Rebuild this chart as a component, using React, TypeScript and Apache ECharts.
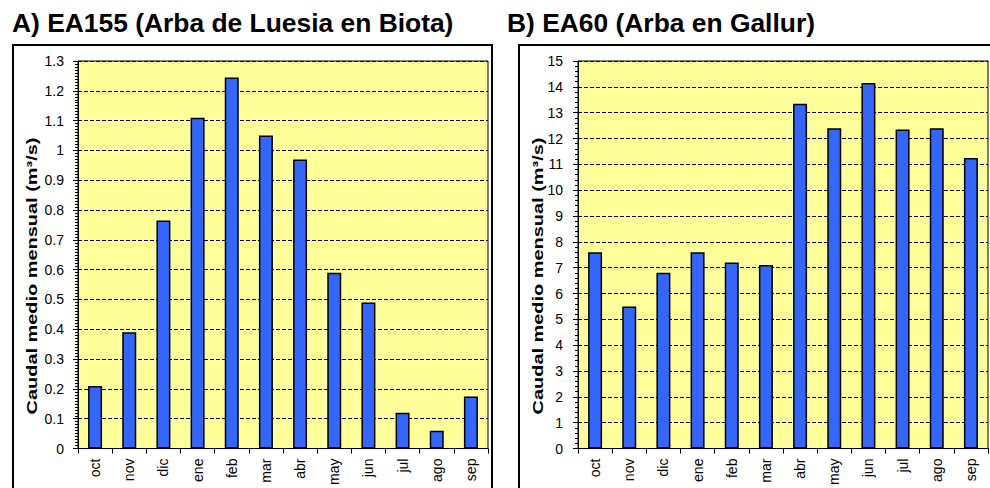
import React, { useEffect, useRef } from "react";
import * as echarts from "echarts";

const months = ["oct", "nov", "dic", "ene", "feb", "mar", "abr", "may", "jun", "jul", "ago", "sep"];
const valuesA = [0.21, 0.39, 0.765, 1.11, 1.245, 1.05, 0.97, 0.59, 0.49, 0.12, 0.06, 0.175];
const valuesB = [7.6, 5.5, 6.8, 7.6, 7.2, 7.1, 13.35, 12.4, 14.15, 12.35, 12.4, 11.25];
const titleA = "A) EA155 (Arba de Luesia en Biota)";
const titleB = "B) EA60 (Arba en Gallur)";
const yName = "Caudal medio mensual (m³/s)";

const FONT = 'Arial, "Liberation Sans", sans-serif';

export default function App() {
  const ref = useRef<HTMLDivElement>(null);
  useEffect(() => {
    if (!ref.current) return;
    const chart = echarts.init(ref.current, null, { renderer: "svg" });
    const xAxisBase = (gridIndex: number) => ({
      type: "category",
      gridIndex,
      data: months,
      axisLine: { lineStyle: { color: "#000", width: 1 } },
      axisTick: { show: true, alignWithLabel: false, length: 5, lineStyle: { color: "#000" } },
      axisLabel: { rotate: 90, fontSize: 14, color: "#000", fontFamily: FONT, margin: 10 },
      splitLine: { show: false },
    });
    const yAxisBase = (gridIndex: number, max: number, interval: number, minorSplit: number, labelMargin: number) => ({
      type: "value",
      gridIndex,
      min: 0,
      max,
      interval,
      axisLine: { show: true, lineStyle: { color: "#000", width: 1 } },
      axisTick: { show: true, length: 5, lineStyle: { color: "#000" } },
      minorTick: { show: true, splitNumber: minorSplit, length: 3, lineStyle: { color: "#000" } },
      axisLabel: { fontSize: 14, color: "#000", fontFamily: FONT, margin: labelMargin },
      splitLine: { show: true, lineStyle: { color: "#000", type: [4, 2], width: 1 } },
    });
    const barSeries = (idx: number, data: number[]) => ({
      type: "bar",
      xAxisIndex: idx,
      yAxisIndex: idx,
      data,
      barWidth: 14,
      itemStyle: { color: "#3366FF", borderColor: "#000", borderWidth: 1.5 },
    });
    const yNameText = (x: number) => ({
      type: "text",
      x,
      y: 276,
      rotation: Math.PI / 2,
      scaleX: 1.33,
      style: { text: yName, font: `bold 15px ${FONT}`, fill: "#000", align: "center", verticalAlign: "middle" },
    });
    chart.setOption({
      animation: false,
      backgroundColor: "#fff",
      graphic: [
        { type: "rect", shape: { x: 13, y: 45, width: 479, height: 470 }, style: { fill: "none", stroke: "#000", lineWidth: 2 } },
        { type: "rect", shape: { x: 519, y: 45, width: 600, height: 470 }, style: { fill: "none", stroke: "#000", lineWidth: 2 } },
        { type: "text", x: 12, y: 23, style: { text: titleA, font: `bold 26.4px ${FONT}`, fill: "#000", verticalAlign: "middle" } },
        { type: "text", x: 507, y: 23, style: { text: titleB, font: `bold 26.4px ${FONT}`, fill: "#000", verticalAlign: "middle" } },
        yNameText(32),
        yNameText(538),
      ],
      grid: [
        { left: 78, top: 61, width: 410, height: 388, show: true, backgroundColor: "#FFFF99", borderColor: "#000", borderWidth: 1 },
        { left: 578, top: 61, width: 410, height: 388, show: true, backgroundColor: "#FFFF99", borderColor: "#000", borderWidth: 1 },
      ],
      xAxis: [xAxisBase(0), xAxisBase(1)],
      yAxis: [yAxisBase(0, 1.3, 0.1, 10, 14), yAxisBase(1, 15, 1, 5, 15)],
      series: [barSeries(0, valuesA), barSeries(1, valuesB)],
    });
    return () => chart.dispose();
  }, []);
  return <div ref={ref} style={{ position: "absolute", left: 0, top: 0, width: 990, height: 488 }} />;
}
